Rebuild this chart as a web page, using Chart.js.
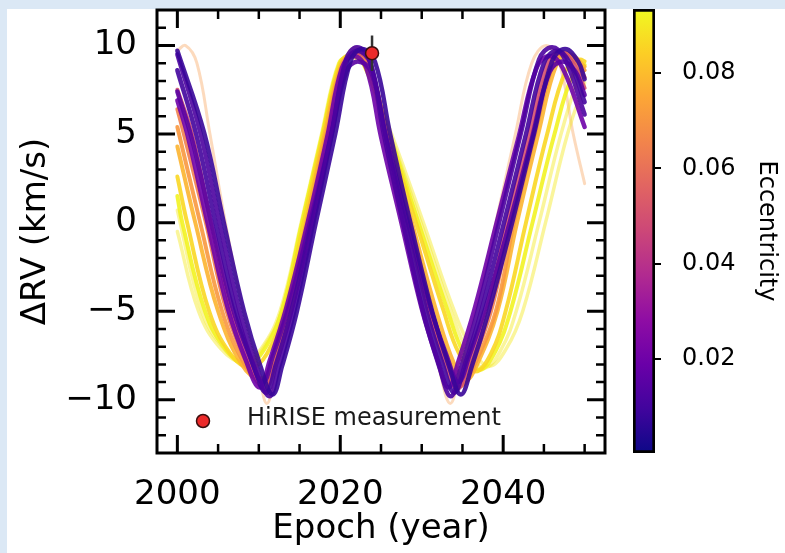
<!DOCTYPE html>
<html>
<head>
<meta charset="utf-8">
<title>Predicted RV curves</title>
<script src="https://cdn.jsdelivr.net/npm/chart.js@4.4.1/dist/chart.umd.min.js"></script>
<style>
  body { margin: 0; background: #dbe8f5; }
  #sheet { position: absolute; left: 7px; top: 9px; width: 778px; height: 544px; background: #fff; }
  #rv { position: absolute; left: 0; top: 0; }
  #cbar { position: absolute; left: 620px; top: 0; }
</style>
</head>
<body>
<div id="sheet"></div>
<canvas id="rv" width="785" height="553"></canvas>
<canvas id="cbar" width="165" height="553"></canvas>
<script>
// Axis limits and ticks
const xLimits = [1997.5, 2052.5];
const yLimits = [-13, 12];
const xMajorTicks = [2000, 2020, 2040];
const xMinorTicks = [2005, 2010, 2015, 2025, 2030, 2035, 2045, 2050];
const yMajorTicks = [-10, -5, 0, 5, 10];
const yMinorTicks = [-12, -11, -9, -8, -7, -6, -4, -3, -2, -1, 1, 2, 3, 4, 6, 7, 8, 9, 11];
const eccRange = [0.0003, 0.0934];
const eccTicks = [0.02, 0.04, 0.06, 0.08];

// HiRISE point: epoch, delta RV and 1-sigma error (km/s)
const hiriseEpoch = [2023.9];
const hiriseRV = [9.56];
const hiriseErr = [1.0];

// Orbit draws: [epoch, delta RV] pairs, low eccentricity first
const rvPb = [[2000, 9.7], [2003.3, 5.05], [2005.7, 0], [2008.2, -5.05], [2010.2, -8.1], [2011.7, -9.7], [2012.85, -8.1], [2014.65, -5.05], [2017.0, 0], [2019.4, 5.05], [2021.25, 9.1], [2022.65, 9.8], [2024.25, 9.1], [2026.1, 5.05], [2028.6, 0], [2031.3, -5.05], [2033.35, -8.1], [2034.8, -9.7], [2036.15, -8.1], [2038.2, -5.05], [2041.1, 0], [2043.8, 5.05], [2046.0, 9.1], [2047.6, 9.8], [2049.2, 9.1], [2050, 8.1]];
const rvPe = [[2000, 9.5], [2002.8, 5.1], [2005.2, 0], [2007.7, -5.1], [2009.75, -8.2], [2011.3, -9.8], [2012.45, -8.2], [2014.3, -5.1], [2016.7, 0], [2019.0, 5.1], [2020.7, 9.2], [2022.05, 9.9], [2023.6, 9.2], [2025.3, 5.1], [2027.7, 0], [2030.2, -5.1], [2032.2, -8.2], [2033.55, -9.8], [2034.8, -8.2], [2036.8, -5.1], [2039.5, 0], [2042.2, 5.1], [2044.4, 9.2], [2046.0, 9.9], [2047.6, 9.2], [2050, 6.1]];
const rvPc = [[2000, 8.6], [2002.3, 5], [2004.7, 0], [2007.2, -5], [2009.3, -8], [2010.9, -9.6], [2012.1, -8], [2014.0, -5], [2016.5, 0], [2018.9, 5], [2020.7, 9], [2022.1, 9.7], [2023.7, 9], [2025.5, 5], [2028.0, 0], [2030.6, -5], [2032.6, -8], [2034.0, -9.6], [2035.3, -8], [2037.3, -5], [2040.1, 0], [2042.8, 5], [2045.0, 9], [2046.6, 9.7], [2048.2, 9], [2050, 6.8]];
const rvPd = [[2000, 7.4], [2001.8, 4.7], [2004.2, 0], [2006.7, -4.7], [2008.85, -7.5], [2010.5, -9.0], [2011.75, -7.5], [2013.7, -4.7], [2016.3, 0], [2018.8, 4.7], [2020.7, 8.5], [2022.15, 9.1], [2023.8, 8.5], [2025.7, 4.7], [2028.3, 0], [2031.0, -4.7], [2033.05, -7.5], [2034.5, -9.0], [2035.85, -7.5], [2037.9, -4.7], [2040.8, 0], [2043.5, 4.7], [2045.7, 8.5], [2047.3, 9.1], [2048.9, 8.5], [2050, 7.2]];
const rvPa = [[2000, 6.9], [2001.3, 4.85], [2003.7, 0], [2006.2, -4.85], [2008.4, -7.76], [2010.1, -9.3], [2011.35, -7.76], [2013.35, -4.85], [2016.0, 0], [2018.4, 4.85], [2020.2, 8.73], [2021.6, 9.4], [2023.2, 8.73], [2025.0, 4.85], [2027.5, 0], [2030.0, -4.85], [2031.95, -7.76], [2033.3, -9.3], [2034.55, -7.76], [2036.5, -4.85], [2039.2, 0], [2041.9, 4.85], [2044.1, 8.73], [2045.7, 9.4], [2047.3, 8.73], [2050, 5.4]];
const rvOm = [[2000, 7.5], [2001.8, 5], [2004.1, 0], [2006.6, -5], [2008.95, -8], [2010.7, -9.4], [2012.0, -8], [2013.9, -5], [2016.3, 0], [2018.7, 5], [2020.6, 9], [2022.0, 9.6], [2023.6, 9], [2025.6, 5], [2028.2, 0], [2030.8, -5], [2032.9, -8], [2034.35, -9.4], [2035.7, -8], [2037.9, -5], [2040.5, 0], [2043.2, 5], [2045.4, 9], [2047.0, 9.65], [2048.6, 9], [2050, 7.6]];
const rvOb = [[2000, 6.4], [2000.8, 5], [2003.5, 0], [2006.05, -5], [2008.6, -8], [2010.5, -9.2], [2011.9, -8], [2013.75, -5], [2016.15, 0], [2018.5, 5], [2020.45, 9], [2021.95, 9.55], [2023.55, 9], [2025.65, 5], [2028.4, 0], [2031.05, -5], [2033.2, -8], [2034.7, -9.25], [2036.1, -8], [2038.5, -5], [2040.9, 0], [2043.55, 5], [2045.8, 9], [2047.4, 9.6], [2049.0, 9], [2050, 8.2]];
const rvOd = [[2000, 5.4], [2002.8, 0], [2005.5, -5], [2008.25, -8], [2010.3, -9.0], [2011.8, -8], [2013.6, -5], [2016.0, 0], [2018.3, 5], [2020.3, 9], [2021.9, 9.5], [2023.5, 9], [2025.7, 5], [2028.6, 0], [2031.3, -5], [2033.5, -8], [2035.05, -9.1], [2036.5, -8], [2039.1, -5], [2041.3, 0], [2043.9, 5], [2046.2, 9], [2047.8, 9.55], [2050, 8.6]];
const rvOc = [[2000, 4.3], [2002.2, 0], [2005.0, -5], [2007.9, -8], [2010.1, -8.8], [2011.7, -8], [2013.5, -5], [2015.8, 0], [2018.1, 5], [2020.2, 9], [2021.8, 9.4], [2023.4, 9], [2025.8, 5], [2028.8, 0], [2031.8, -5], [2034.0, -8], [2035.4, -8.9], [2036.8, -8], [2039.3, -5], [2041.7, 0], [2044.3, 5], [2046.6, 9], [2048.2, 9.5], [2050, 8.8]];
const rvY1 = [[2000, 2.6], [2001.2, 0], [2003.9, -5], [2006.5, -7.4], [2009.0, -8.2], [2011.0, -7.4], [2013.1, -5], [2015.5, 0], [2017.9, 5], [2020.0, 9], [2021.5, 9.5], [2023.0, 9], [2025.9, 5], [2029.3, 0], [2032.7, -5], [2034.6, -7.4], [2036.6, -8.4], [2038.5, -7.4], [2040.3, -5], [2042.8, 0], [2045.4, 5], [2047.7, 8.6], [2049.4, 9.2], [2050, 9.1]];
const rvYc = [[2000, 1.5], [2000.6, 0], [2003.4, -5], [2006.0, -7.2], [2008.6, -8.0], [2010.6, -7.2], [2012.8, -5], [2015.3, 0], [2017.8, 5], [2019.9, 9], [2021.3, 9.4], [2022.8, 9], [2026.0, 5], [2029.6, 0], [2033.2, -5], [2035.1, -7.3], [2037.1, -8.3], [2039.0, -7.3], [2040.9, -5], [2043.6, 0], [2046.3, 5], [2048.5, 8.3], [2050, 8.9]];
const rvY4 = [[2000, 0.7], [2003.0, -5], [2005.7, -7.1], [2008.4, -8.0], [2010.5, -7.1], [2012.8, -5], [2015.3, 0], [2017.8, 5], [2019.9, 9], [2021.3, 9.35], [2022.9, 9], [2026.3, 5], [2030.2, 0], [2034.0, -5], [2036.1, -7.1], [2038.3, -8.1], [2040.4, -7.1], [2042.4, -5], [2045.2, 0], [2047.9, 5], [2050, 7.9]];
const rvY3 = [[2000, -0.5], [2002.6, -5], [2005.3, -7.1], [2008.1, -7.9], [2010.3, -7.1], [2012.6, -5], [2015.2, 0], [2017.7, 5], [2019.8, 9], [2021.2, 9.3], [2022.8, 9], [2026.1, 5], [2029.9, 0], [2033.6, -5], [2035.6, -7.2], [2037.7, -8.2], [2039.7, -7.2], [2041.6, -5], [2044.4, 0], [2047.1, 5], [2049.4, 8.4], [2050, 8.6]];
const rvPale = [[2000, 9.7], [2001.0, 10.0], [2002.4, 9], [2004.0, 5], [2005.9, 0], [2008.1, -5], [2009.8, -8], [2011.0, -10.2], [2012.2, -8], [2014.0, -5], [2016.3, 0], [2018.6, 5], [2020.4, 9], [2021.9, 9.9], [2023.4, 9], [2025.2, 5], [2027.6, 0], [2030.2, -5], [2032.0, -8], [2033.5, -10.2], [2034.8, -8], [2036.6, -5], [2039.1, 0], [2041.5, 5], [2043.5, 9], [2045.3, 10.0], [2046.9, 9], [2048.6, 5], [2050, 2.2]];

// first in list is drawn on top
const rvCurves = [rvPb, rvPe, rvPc, rvPd, rvPa, rvOm, rvOb, rvOd, rvOc, rvY1, rvYc, rvY4, rvY3, rvPale];
const curveEcc = [0.008, 0.012, 0.010, 0.015, 0.020, 0.050, 0.064, 0.071, 0.078, 0.086, 0.092, 0.090, 0.090, 0.070];

const FONT = "'DejaVu Sans', sans-serif";
const PLASMA = ['#0d0887', '#41049d', '#6a00a8', '#8f0da4', '#b12a90', '#cc4778',
                '#e16462', '#f2844b', '#fca636', '#fcce25', '#f0f921'];

function hexRgb(h) {
  return [1, 3, 5].map(i => parseInt(h.slice(i, i + 2), 16));
}

function plasma(e, alpha) {
  let t = (e - eccRange[0]) / (eccRange[1] - eccRange[0]);
  t = Math.min(1, Math.max(0, t)) * 10;
  const i = Math.min(9, Math.floor(t));
  const f = t - i;
  const a = hexRgb(PLASMA[i]), b = hexRgb(PLASMA[i + 1]);
  const c = a.map((v, k) => Math.round(v + (b[k] - v) * f));
  return `rgba(${c[0]}, ${c[1]}, ${c[2]}, ${alpha})`;
}

function curveStyle(e, idx) {
  if (idx === rvCurves.length - 1) return { alpha: 0.35, width: 3 };
  if (idx >= rvCurves.length - 3) return { alpha: 0.45, width: 3.5 };
  if (e < 0.03) return { alpha: 0.9, width: 4.5 };
  return { alpha: 0.9, width: 4 };
}

const minusSign = v => String(v).replace('-', '\u2212');

const datasets = [];

// measurement marker
datasets.push({
  label: 'HiRISE measurement',
  data: hiriseEpoch.map((x, i) => ({ x, y: hiriseRV[i] })),
  showLine: false,
  pointRadius: 6.5,
  pointBackgroundColor: '#ec2a2a',
  pointBorderColor: '#3a0e0e',
  pointBorderWidth: 1.5
});

// error bars
hiriseEpoch.forEach((x, i) => {
  datasets.push({
    data: [{ x, y: hiriseRV[i] - hiriseErr[i] }, { x, y: hiriseRV[i] + hiriseErr[i] }],
    borderColor: '#333',
    borderWidth: 2.5,
    pointRadius: 0,
    tension: 0
  });
});

rvCurves.forEach((curve, idx) => {
  const st = curveStyle(curveEcc[idx], idx);
  datasets.push({
    data: curve.map(([x, y]) => ({ x, y })),
    borderColor: plasma(curveEcc[idx], st.alpha),
    borderWidth: st.width,
    pointRadius: 0,
    tension: 0.4,
    borderCapStyle: 'round',
    borderJoinStyle: 'round'
  });
});

// frame, inward ticks on all sides and the legend entry
const framePlugin = {
  id: 'frame',
  afterDraw(chart) {
    const { ctx, chartArea: a, scales: { x, y } } = chart;
    ctx.save();
    ctx.strokeStyle = '#000';
    ctx.lineWidth = 3;
    ctx.strokeRect(a.left, a.top, a.right - a.left, a.bottom - a.top);

    const tick = (vals, len, horiz) => {
      vals.forEach(v => {
        ctx.beginPath();
        if (horiz) {
          const px = x.getPixelForValue(v);
          ctx.moveTo(px, a.bottom); ctx.lineTo(px, a.bottom - len);
          ctx.moveTo(px, a.top); ctx.lineTo(px, a.top + len);
        } else {
          const py = y.getPixelForValue(v);
          ctx.moveTo(a.left, py); ctx.lineTo(a.left + len, py);
          ctx.moveTo(a.right, py); ctx.lineTo(a.right - len, py);
        }
        ctx.stroke();
      });
    };
    ctx.lineWidth = 3;
    tick(xMajorTicks, 18, true);
    tick(yMajorTicks, 18, false);
    ctx.lineWidth = 2.5;
    tick(xMinorTicks, 9, true);
    tick(yMinorTicks, 9, false);

    // legend
    const lx = a.left + 46, ly = a.bottom - 32;
    ctx.beginPath();
    ctx.arc(lx, ly, 6.5, 0, Math.PI * 2);
    ctx.fillStyle = '#ec2a2a';
    ctx.fill();
    ctx.lineWidth = 1.5;
    ctx.strokeStyle = '#3a0e0e';
    ctx.stroke();
    ctx.fillStyle = '#1a1a1a';
    ctx.font = `24px ${FONT}`;
    ctx.textBaseline = 'middle';
    ctx.fillText('HiRISE measurement', a.left + 90, a.bottom - 34);
    ctx.restore();
  }
};

new Chart(document.getElementById('rv'), {
  type: 'line',
  data: { datasets },
  plugins: [framePlugin],
  options: {
    responsive: false,
    animation: false,
    devicePixelRatio: 1,
    layout: { padding: { left: 0, top: 10, right: 180, bottom: 0 } },
    plugins: { legend: { display: false }, tooltip: { enabled: false } },
    scales: {
      x: {
        type: 'linear',
        min: xLimits[0],
        max: xLimits[1],
        grid: { display: false, drawTicks: false },
        border: { display: false },
        ticks: {
          font: { family: FONT, size: 34 },
          color: '#000',
          padding: 22,
          maxRotation: 0,
          autoSkip: false,
          callback: v => String(v)
        },
        title: {
          display: true,
          text: 'Epoch (year)',
          font: { family: FONT, size: 34 },
          color: '#000',
          padding: { top: 0, bottom: 3 }
        },
        afterBuildTicks: s => { s.ticks = xMajorTicks.map(v => ({ value: v })); },
        afterFit: s => { s.height = 100; s.paddingLeft = 0; s.paddingRight = 0; }
      },
      y: {
        type: 'linear',
        min: yLimits[0],
        max: yLimits[1],
        grid: { display: false, drawTicks: false },
        border: { display: false },
        ticks: {
          font: { family: FONT, size: 34 },
          color: '#000',
          padding: 20,
          autoSkip: false,
          callback: v => minusSign(v)
        },
        title: {
          display: true,
          text: '\u0394RV (km/s)',
          font: { family: FONT, size: 34 },
          color: '#000',
          padding: { top: 16, bottom: 0 }
        },
        afterBuildTicks: s => { s.ticks = yMajorTicks.map(v => ({ value: v })); },
        afterFit: s => { s.width = 157; s.paddingTop = 0; s.paddingBottom = 0; }
      }
    }
  }
});

// colour bar for eccentricity
new Chart(document.getElementById('cbar'), {
  type: 'bar',
  data: {
    labels: ['e'],
    datasets: [{
      data: [eccRange],
      backgroundColor: ctx => {
        const a = ctx.chart.chartArea;
        if (!a) return '#000';
        const g = ctx.chart.ctx.createLinearGradient(0, a.bottom, 0, a.top);
        PLASMA.forEach((c, i) => g.addColorStop(i / 10, c));
        return g;
      },
      borderColor: '#000',
      borderWidth: 3,
      borderSkipped: false,
      barPercentage: 1,
      categoryPercentage: 1
    }]
  },
  options: {
    responsive: false,
    animation: false,
    devicePixelRatio: 1,
    layout: { padding: { left: 13, top: 9, right: 0, bottom: 100 } },
    plugins: { legend: { display: false }, tooltip: { enabled: false } },
    scales: {
      x: { display: false },
      y: {
        position: 'right',
        min: eccRange[0],
        max: eccRange[1],
        grid: { display: true, drawOnChartArea: false, drawTicks: true, tickLength: 6, color: '#000', lineWidth: 2 },
        border: { display: false },
        ticks: {
          font: { family: FONT, size: 24 },
          color: '#000',
          padding: 21,
          autoSkip: false,
          callback: v => v.toFixed(2)
        },
        title: {
          display: true,
          text: 'Eccentricity',
          font: { family: FONT, size: 24 },
          color: '#000',
          padding: { top: 4, bottom: 0 }
        },
        afterBuildTicks: s => { s.ticks = eccTicks.map(v => ({ value: v })); },
        afterFit: s => { s.width = 130; s.paddingTop = 0; s.paddingBottom = 0; }
      }
    }
  }
});
</script>
</body>
</html>
